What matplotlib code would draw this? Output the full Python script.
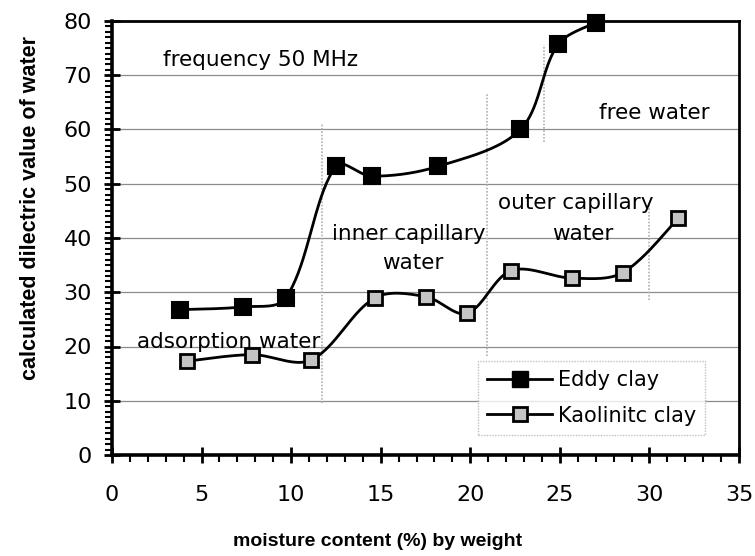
import numpy as np
import matplotlib
matplotlib.use("Agg")
import matplotlib.pyplot as plt
from matplotlib.ticker import MultipleLocator
from matplotlib.lines import Line2D

plt.rcParams['font.family'] = ['DejaVu Sans']

eddy_x = [3.8, 7.3, 9.7, 12.5, 14.5, 18.2, 22.8, 24.9, 27.0]
eddy_y = [26.8, 27.3, 28.9, 53.3, 51.4, 53.2, 60.0, 75.7, 79.7]
kaol_x = [4.2, 7.8, 11.1, 14.7, 17.5, 19.8, 22.3, 25.7, 28.5, 31.6]
kaol_y = [17.3, 18.5, 17.5, 29.0, 29.2, 26.1, 34.0, 32.6, 33.6, 43.6]

region_x = [11.75, 20.95, 24.1, 29.95]
region_y0 = [9.6, 18.3, 57.7, 28.5]
region_y1 = [61.0, 66.7, 75.6, 46.4]

x_ticks = [0, 5, 10, 15, 20, 25, 30, 35]
y_ticks = [0, 10, 20, 30, 40, 50, 60, 70, 80]

SX, SY = 627 / 35.0, 434 / 80.0  # pixel per data unit (for isotropic smoothing)


def smooth(xs, ys, n=40):
    # Bezier smoothing through the points, with tangent lengths proportional
    # to neighbouring segment lengths (limits overshoot, as in spreadsheet charts)
    p = np.column_stack([np.asarray(xs) * SX, np.asarray(ys) * SY]).astype(float)
    out = []
    m = len(p)
    for i in range(m - 1):
        p0 = p[i - 1] if i > 0 else p[i]
        p1 = p[i]
        p2 = p[i + 1]
        p3 = p[i + 2] if i + 2 < m else p[i + 1]
        d01 = np.linalg.norm(p1 - p0)
        d12 = np.linalg.norm(p2 - p1)
        d23 = np.linalg.norm(p3 - p2)
        f1 = d12 / (d01 + d12) if d01 > 0 else 0.5
        f2 = d12 / (d12 + d23) if d23 > 0 else 0.5
        c1 = p1 + (p2 - p0) * f1 / 3.0
        c2 = p2 - (p3 - p1) * f2 / 3.0
        t = np.linspace(0, 1, n)[:, None]
        seg = ((1 - t) ** 3) * p1 + 3 * ((1 - t) ** 2) * t * c1 + 3 * (1 - t) * t ** 2 * c2 + t ** 3 * p2
        out.append(seg)
    arr = np.vstack(out)
    return arr[:, 0] / SX, arr[:, 1] / SY


fig = plt.figure(figsize=(7.55, 5.56), dpi=100)
ax = fig.add_axes([112 / 755, 1 - 455 / 556, (739 - 112) / 755, (455 - 21) / 556])
ax.set_xlim(0, 35)
ax.set_ylim(0, 80)

for yv in y_ticks[1:-1]:
    ax.axhline(yv, color='#8c8c8c', lw=0.9, zorder=1)

for xv, a, b in zip(region_x, region_y0, region_y1):
    ax.plot([xv, xv], [a, b], color='#b0b0b0', lw=1.2, ls=(0, (1, 1)), zorder=2)

sx, sy = smooth(eddy_x, eddy_y)
ax.plot(sx, sy, color='black', lw=2.0, zorder=3)
ax.plot(eddy_x, eddy_y, ls='none', marker='s', ms=12, mfc='black', mec='black', mew=1.5, zorder=5, clip_on=False)
kx, ky = smooth(kaol_x, kaol_y)
ax.plot(kx, ky, color='black', lw=2.0, zorder=3)
ax.plot(kaol_x, kaol_y, ls='none', marker='s', ms=10, mfc='#c4c4c4', mec='black', mew=2.0, zorder=5, clip_on=False)

tfs = 15.5
ax.text(2.85, 72.8, 'frequency 50 MHz', fontsize=tfs, va='center', ha='left', zorder=6)
ax.text(16.55, 40.8, 'inner capillary', fontsize=tfs, va='center', ha='center', zorder=6)
ax.text(16.8, 35.3, 'water', fontsize=tfs, va='center', ha='center', zorder=6)
ax.text(25.9, 46.4, 'outer capillary', fontsize=tfs, va='center', ha='center', zorder=6)
ax.text(26.3, 40.8, 'water', fontsize=tfs, va='center', ha='center', zorder=6)
ax.text(30.3, 63.0, 'free water', fontsize=tfs, va='center', ha='center', zorder=6)
ax.text(6.5, 20.9, 'adsorption water', fontsize=tfs, va='center', ha='center', zorder=6)

h1 = Line2D([], [], color='black', lw=2, marker='s', ms=12, mfc='black', mec='black')
h2 = Line2D([], [], color='black', lw=2, marker='s', ms=10, mfc='#c4c4c4', mec='black', mew=2)
leg = ax.legend([h1, h2], ['Eddy clay', 'Kaolinitc clay'], loc='lower left',
                bbox_to_anchor=((478 - 112) / 627, (455 - 435) / 434, (705 - 478) / 627, (435 - 362) / 434),
                mode='expand', fontsize=15, frameon=True, fancybox=False, handlelength=3.1,
                borderpad=0.45, labelspacing=0.75, handletextpad=0.3, borderaxespad=0)
leg.get_frame().set_edgecolor('#b0b0b0')
leg.get_frame().set_linestyle((0, (1, 1)))
leg.get_frame().set_linewidth(1.0)
leg.set_zorder(7)

for s in ax.spines.values():
    s.set_linewidth(2.0)
    s.set_color('black')
ax.spines['left'].set_linewidth(2.6)
ax.spines['bottom'].set_linewidth(2.6)

ax.set_xticks(x_ticks)
ax.set_yticks(y_ticks)
ax.xaxis.set_minor_locator(MultipleLocator(1))
ax.yaxis.set_minor_locator(MultipleLocator(1))
ax.tick_params(axis='both', which='major', direction='inout', length=11, width=2, labelsize=16)
ax.tick_params(axis='both', which='minor', direction='out', length=5, width=1.5)
ax.tick_params(axis='x', which='major', pad=16)
ax.tick_params(axis='y', which='major', pad=9)

ax.set_xlabel('moisture content (%) by weight', fontsize=14, fontweight='bold',
              family=['Liberation Sans', 'DejaVu Sans'])
ax.xaxis.set_label_coords((377.5 - 112) / 627, (455 - 542) / 434)
ax.xaxis.label.set_va('center')
ax.set_ylabel('calculated dilectric value of water', fontsize=15.5, fontweight='bold',
              family=['Liberation Sans', 'DejaVu Sans'])
ax.yaxis.set_label_coords((30 - 112) / 627, (455 - 208) / 434)
ax.yaxis.label.set_va('center')
ax.yaxis.label.set_ha('center')

fig.savefig('out.png', dpi=100)
